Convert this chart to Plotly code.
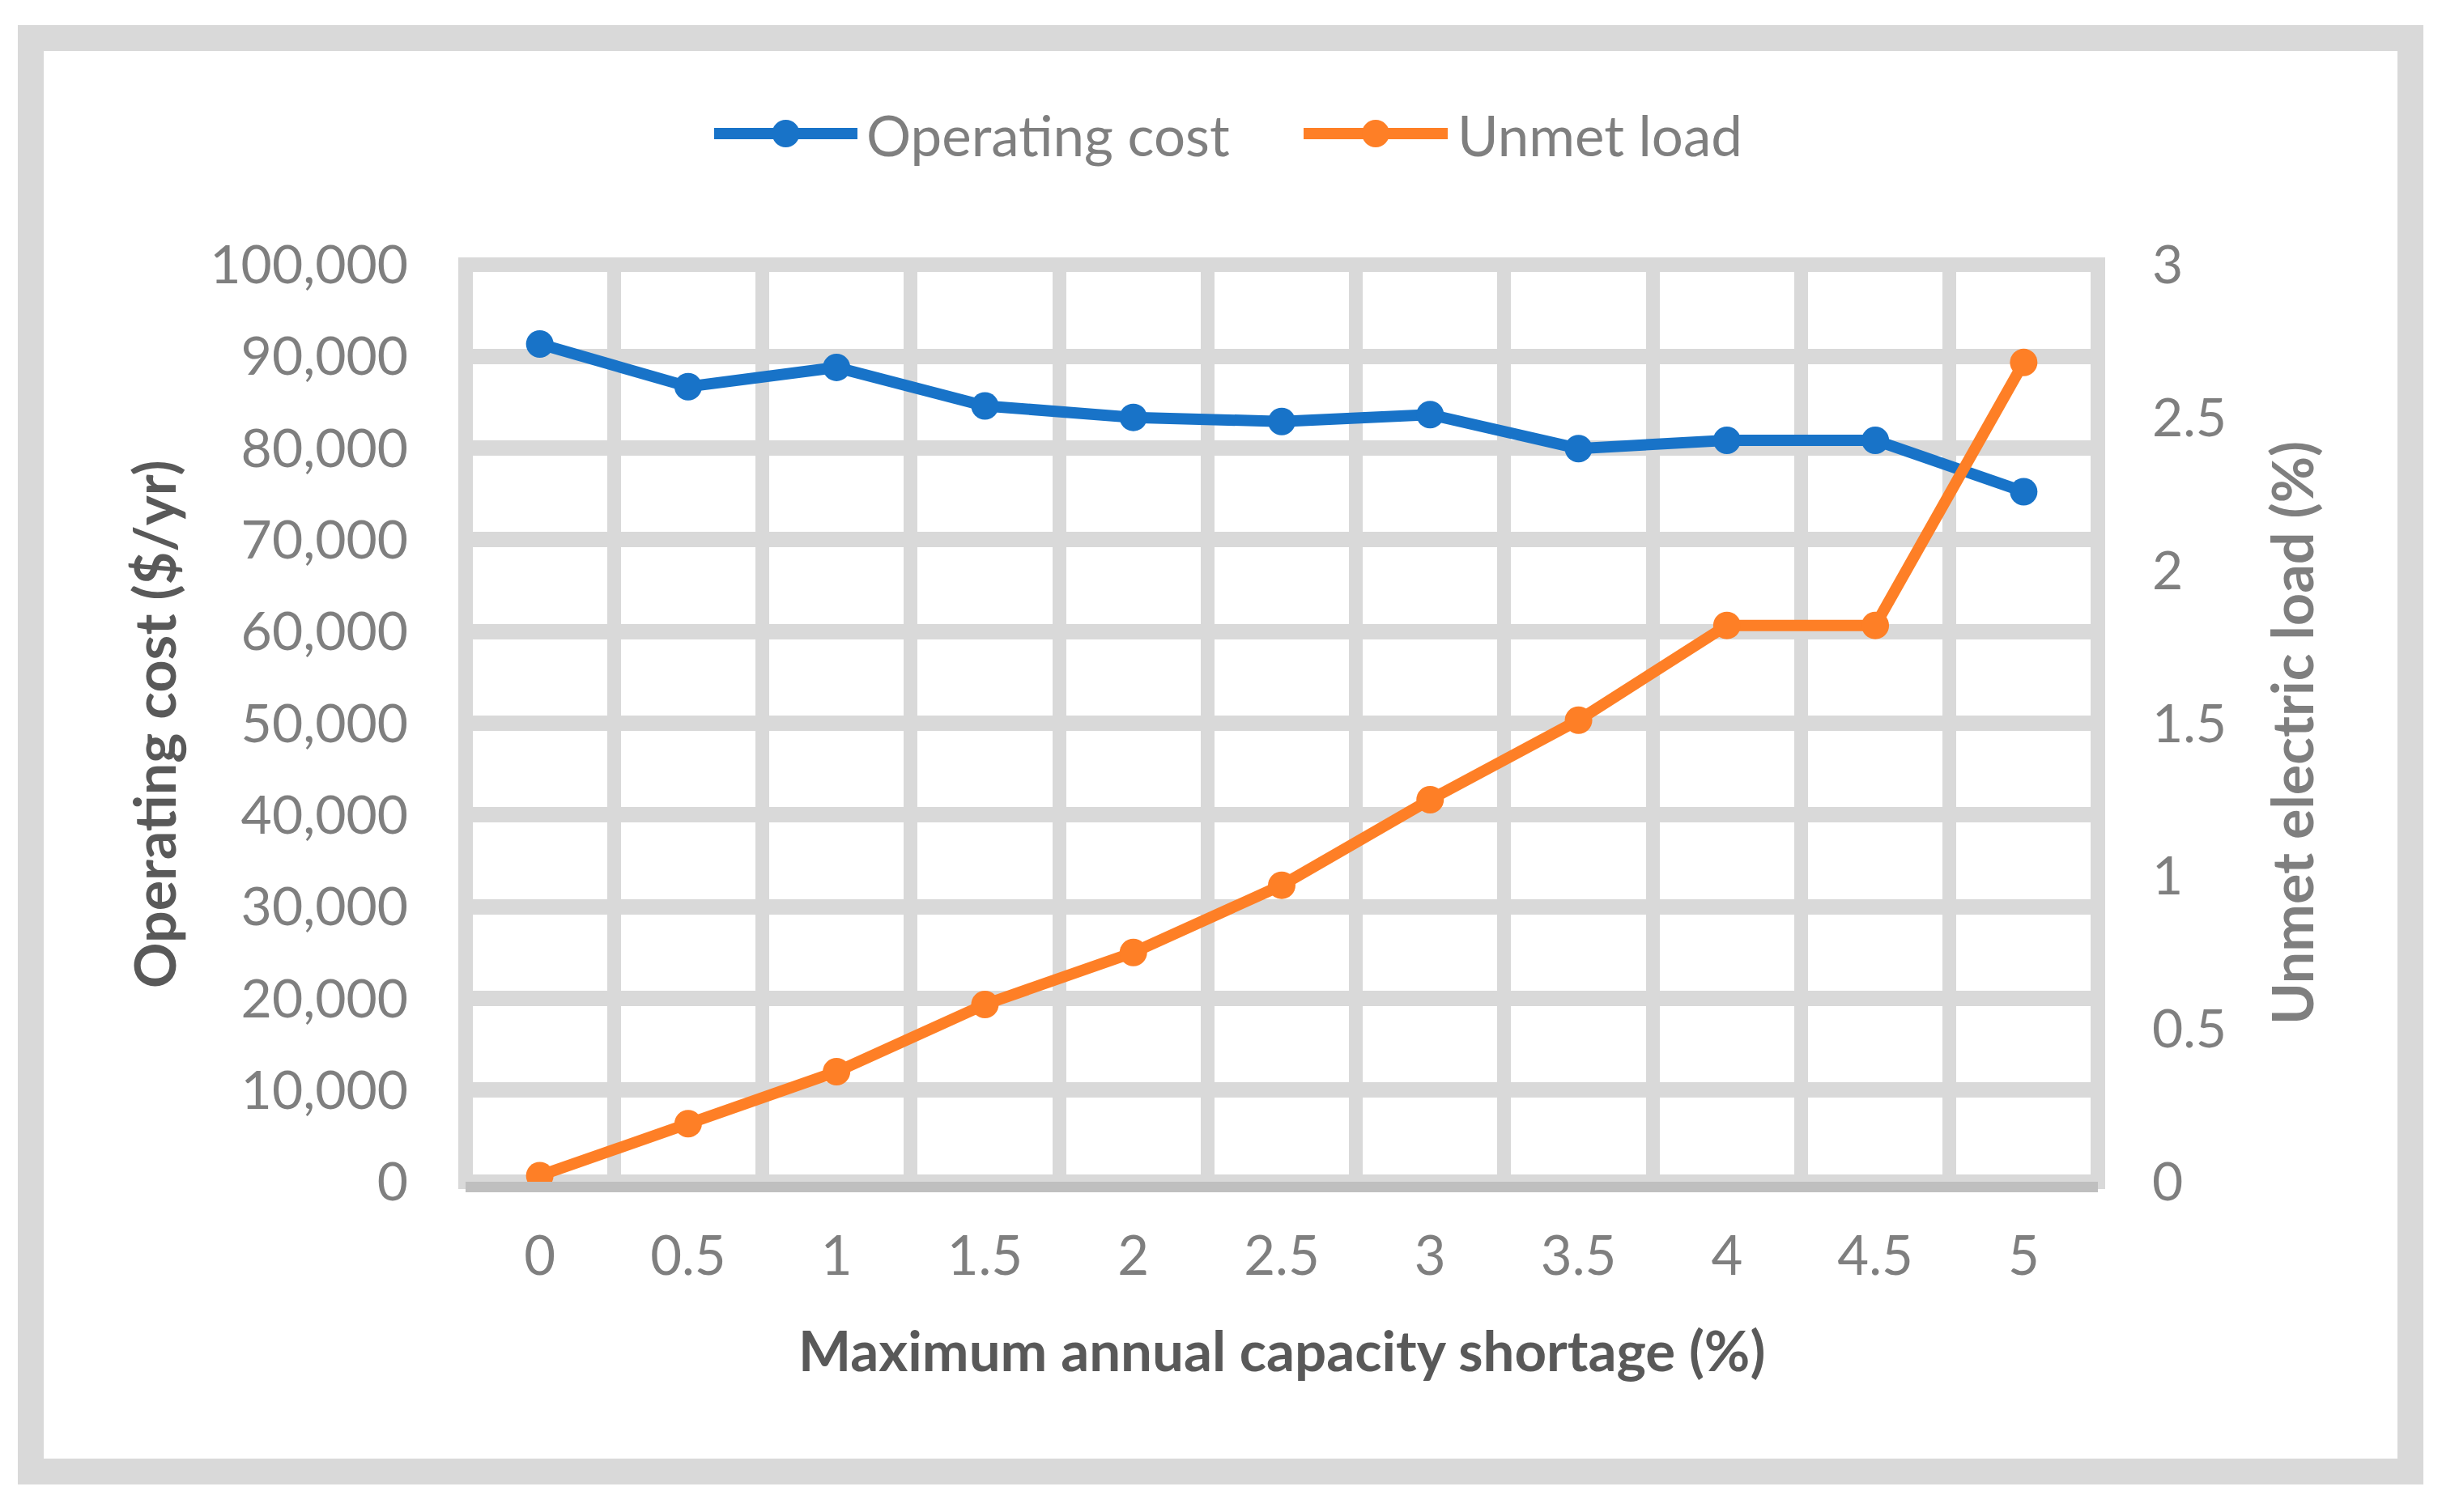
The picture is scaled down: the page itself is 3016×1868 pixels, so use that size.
import plotly.graph_objects as go

# values
shortage = ["0", "0.5", "1", "1.5", "2", "2.5", "3", "3.5", "4", "4.5", "5"]
operating_cost = [91350, 86700, 88800, 84600, 83350, 82900, 83650, 79950, 80850, 80850, 75250]
unmet_load = [0.02, 0.19, 0.36, 0.58, 0.75, 0.97, 1.25, 1.51, 1.82, 1.82, 2.68]

cost_ticks = list(range(0, 100001, 10000))
load_ticks = [0, 0.5, 1, 1.5, 2, 2.5, 3]
load_labels = ["0", "0.5", "1", "1.5", "2", "2.5", "3"]

series_names = ["Operating cost", "Unmet load"]
BLUE = "#1873C8"
ORANGE = "#FE7F26"
GRID = "#D9D9D9"
TICK = "#7F7F7F"
FONT = "Lato"

# the page body adds an 8px margin, so the figure is a bit smaller than the window
OFF = 8
W, H = 3016 - 2 * OFF, 1868 - 2 * OFF
# plot area in screen pixels
L, R, T, B = 575, 2591, 327, 1460


def px_x(p):
    return (p - L) / (R - L)


def px_y(p):
    return (B - p) / (B - T)


fig = go.Figure()
fig.add_trace(go.Scatter(
    x=shortage, y=operating_cost, name=series_names[0], mode="lines+markers",
    line=dict(color=BLUE, width=14), marker=dict(color=BLUE, size=34),
    yaxis="y"))
fig.add_trace(go.Scatter(
    x=shortage, y=unmet_load, name=series_names[1], mode="lines+markers",
    line=dict(color=ORANGE, width=14), marker=dict(color=ORANGE, size=34),
    yaxis="y2"))

fig.update_layout(
    width=W, height=H,
    margin=dict(l=L - OFF, r=W - (R - OFF), t=T - OFF, b=H - (B - OFF), pad=0),
    paper_bgcolor="white", plot_bgcolor="white",
    font=dict(family=FONT, size=66, color=TICK),
    showlegend=False,
    xaxis=dict(type="category", range=[-0.5, len(shortage) - 0.5], tickson="boundaries",
               showgrid=True, gridcolor=GRID, gridwidth=17, ticks="", showline=True,
               linecolor="#BFBFBF", linewidth=13, ticklabelstandoff=22,
               tickfont=dict(family=FONT, size=67, color=TICK)),
    yaxis=dict(range=[0, 100000], tickvals=cost_ticks, tickformat=",",
               showgrid=True, gridcolor=GRID, gridwidth=19, zeroline=False,
               showline=False, ticks="", ticklabelstandoff=70,
               tickfont=dict(family=FONT, size=66, color=TICK)),
    yaxis2=dict(range=[0, 3], tickvals=load_ticks, ticktext=load_labels,
                overlaying="y", side="right", showgrid=False, zeroline=False,
                showline=False, ticks="", ticklabelstandoff=66,
                tickfont=dict(family=FONT, size=66, color=TICK)),
)

# plot-area border in grid colour (edge grid lines are not drawn by plotly)
fig.add_shape(type="rect", xref="paper", yref="paper", x0=0, x1=1, y0=0, y1=1,
              line=dict(color=GRID, width=18), fillcolor="rgba(0,0,0,0)", layer="below")

# axis titles
fig.add_annotation(text="<b>Maximum annual capacity shortage (%)</b>", xref="paper", yref="paper",
                   x=0.5, y=px_y(1667), xanchor="center", yanchor="middle",
                   showarrow=False, font=dict(family=FONT, size=69, color="#595959"))
fig.add_annotation(text="<b>Operating cost ($/yr)</b>", xref="paper", yref="paper",
                   x=px_x(190), y=px_y(895), xanchor="center", yanchor="middle",
                   textangle=-90, showarrow=False,
                   font=dict(family=FONT, size=70, color="#595959"))
fig.add_annotation(text="<b>Unmet electric load (%)</b>", xref="paper", yref="paper",
                   x=px_x(2830), y=px_y(906), xanchor="center", yanchor="middle",
                   textangle=-90, showarrow=False,
                   font=dict(family=FONT, size=70, color=TICK))

# legend drawn by hand so the samples keep the full line and marker size
legend_items = [
    (series_names[0], BLUE, 882, 1059, 1068),
    (series_names[1], ORANGE, 1610, 1788, 1798),
]
LEG_Y = 165
for name, color, x0, x1, tx in legend_items:
    fig.add_shape(type="line", xref="paper", yref="paper",
                  x0=px_x(x0), x1=px_x(x1), y0=px_y(LEG_Y), y1=px_y(LEG_Y),
                  line=dict(color=color, width=14))
    fig.add_shape(type="circle", xref="paper", yref="paper",
                  xsizemode="pixel", ysizemode="pixel",
                  xanchor=px_x((x0 + x1) / 2), yanchor=px_y(LEG_Y),
                  x0=-17, x1=17, y0=-17, y1=17,
                  fillcolor=color, line=dict(color=color, width=0))
    fig.add_annotation(text=name, xref="paper", yref="paper",
                       x=px_x(tx), y=px_y(LEG_Y + 2), xanchor="left", yanchor="middle",
                       showarrow=False, font=dict(family=FONT, size=69, color=TICK))

# outer chart frame
fig.add_shape(type="rect", xref="paper", yref="paper",
              x0=px_x(38), x1=px_x(2977), y0=px_y(1818), y1=px_y(47),
              line=dict(color=GRID, width=32), fillcolor="rgba(0,0,0,0)", layer="below")

fig.write_html("out.html")
